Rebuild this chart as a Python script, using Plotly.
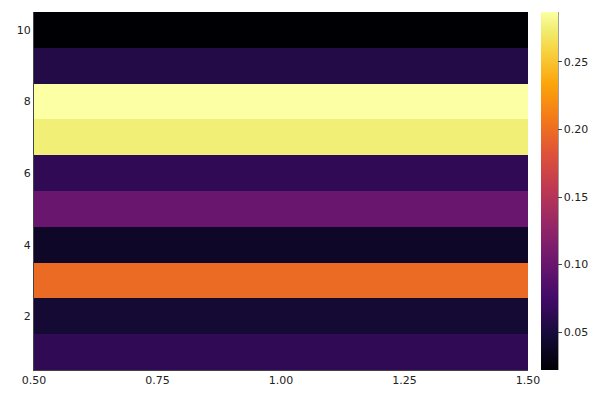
import plotly.graph_objects as go

rows = [1, 2, 3, 4, 5, 6, 7, 8, 9, 10]
cols = [1.0]
values = [0.064, 0.046, 0.199, 0.040, 0.101, 0.064, 0.275, 0.287, 0.056, 0.022]
x_ticks = [0.5, 0.75, 1.0, 1.25, 1.5]
y_ticks = [2, 4, 6, 8, 10]
cb_ticks = [0.05, 0.10, 0.15, 0.20, 0.25]

z = [[v] for v in values]

inferno = [
    [0.0, "#000004"], [0.1, "#160B39"], [0.2, "#420A68"], [0.3, "#6A176E"],
    [0.4, "#932667"], [0.5, "#BC3754"], [0.6, "#DD513A"], [0.7, "#F37819"],
    [0.8, "#FCA50A"], [0.9, "#F6D746"], [0.95, "#F1ED71"], [1.0, "#FCFFA4"],
]

# page body has an 8px margin, so the figure is sized to fit the viewport
W, H = 592, 392
L, T = 26, 4
R = W - 520
B = H - 362
pw = W - L - R
cb_left_px = 533
cb_thick = 17
cb_x = (cb_left_px - L) / pw
cb_right = (cb_left_px + cb_thick - L) / pw

fig = go.Figure(go.Heatmap(
    x=cols, y=rows, z=z,
    colorscale=inferno,
    zmin=min(values), zmax=max(values),
    colorbar=dict(
        x=cb_x, xanchor="left", xref="paper",
        y=0, yanchor="bottom", len=1, lenmode="fraction",
        thickness=cb_thick, thicknessmode="pixels",
        outlinewidth=0,
        ticks="outside", ticklen=4, tickcolor="#444",
        tickvals=cb_ticks, ticktext=[f"{t:.2f}" for t in cb_ticks],
        tickfont=dict(size=11, color="#222", family="DejaVu Sans"),
        ypad=0, xpad=0,
    ),
))

fig.add_shape(type="line", xref="paper", yref="paper",
              x0=cb_right, x1=cb_right, y0=0, y1=1,
              line=dict(color="#444", width=1))

fig.update_layout(
    width=W, height=H,
    margin=dict(l=L, r=R, t=T, b=B, autoexpand=False),
    plot_bgcolor="white", paper_bgcolor="white",
    font=dict(family="DejaVu Sans", size=11, color="#222"),
)
fig.update_xaxes(range=[0.5, 1.5], tickvals=x_ticks,
                 ticktext=[f"{t:.2f}" for t in x_ticks],
                 showgrid=False, zeroline=False, showline=True,
                 linecolor="#444", linewidth=1, ticks="", mirror=False)
fig.update_yaxes(range=[0.5, 10.5], tickvals=y_ticks,
                 showgrid=False, zeroline=False, showline=True,
                 linecolor="#444", linewidth=1, ticks="", mirror=False)

fig.write_html("out.html")
